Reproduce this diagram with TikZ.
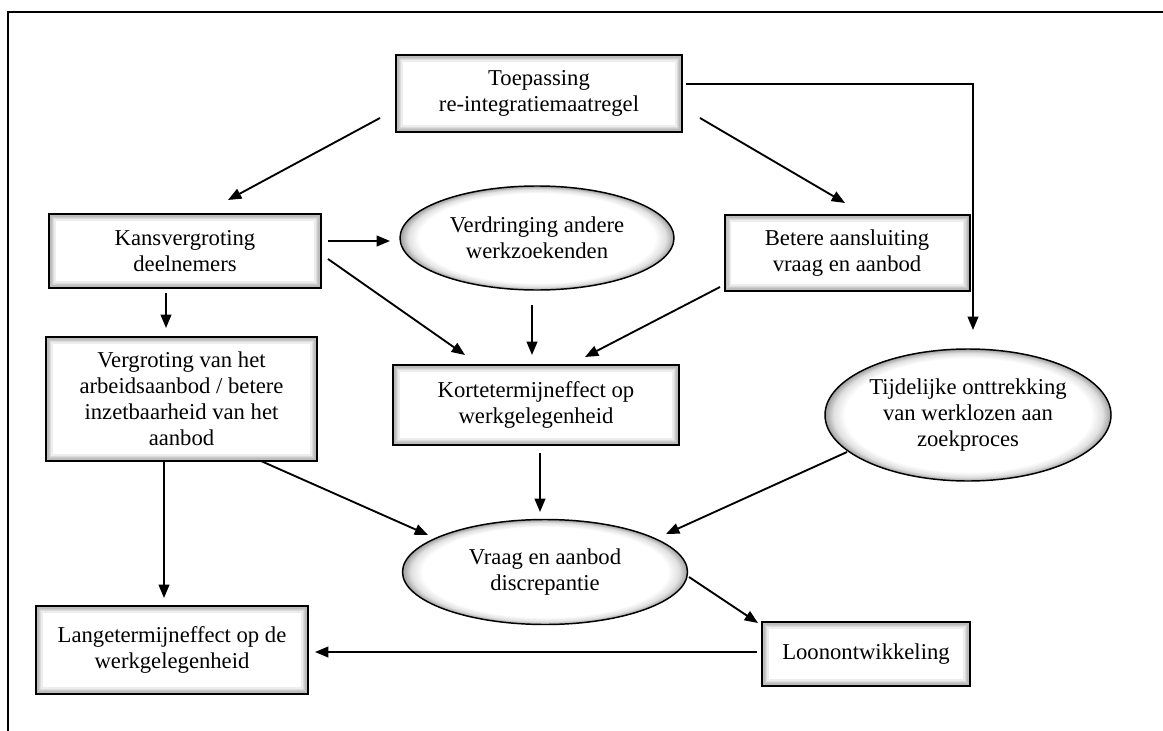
\documentclass[tikz,border=0pt]{standalone}
\usepackage{fontspec}
\setmainfont{Liberation Serif}
\usetikzlibrary{arrows.meta}
\pgfdeclareradialshading{ovalglow}{\pgfpoint{0bp}{0bp}}{color(0bp)=(white); color(21.5bp)=(white); color(23.5bp)=(black!12); color(25bp)=(black!38); color(50bp)=(black!38)}
\tikzset{
  boxnode/.style={draw=black, line width=1.5pt, fill=white, align=center, inner sep=2pt,
    font=\fontsize{17}{19.5}\selectfont,
    path picture={
      \foreach \i in {1,...,5}{
        \draw[black, opacity=0.07, line width=\i*2pt]
          (path picture bounding box.south west) rectangle (path picture bounding box.north east);
      }
    }},
  ovalnode/.style={ellipse, draw=black, line width=1.1pt, shading=ovalglow, align=center, inner sep=0pt,
    font=\fontsize{17}{19.5}\selectfont},
  arr/.style={draw=black, line width=1.4pt, -{Triangle[length=10pt,width=8pt]}},
  frameline/.style={draw=black, line width=1.1pt}
}
\usetikzlibrary{shapes.geometric}
\begin{document}
\begin{tikzpicture}[x=0.75pt, y=-0.75pt]
\useasboundingbox (0,0) rectangle (1163,731);
\coordinate (fa) at (8,731);
\coordinate (fb) at (8,12);
\coordinate (fc) at (1163,12);
\draw[frameline] (fa) -- (fb) -- (fc);

\node[boxnode, minimum width=214.5pt, minimum height=57.75pt] (toe) at (539,93.5) {Toepassing\\re-integratiemaatregel};
\node[boxnode, minimum width=204pt, minimum height=55.5pt] (kans) at (185,251) {Kansvergroting\\deelnemers};
\node[ovalnode, minimum width=205.5pt, minimum height=78pt] (verd) at (537,238) {Verdringing andere\\werkzoekenden};
\node[boxnode, minimum width=183.75pt, minimum height=57pt] (bet) at (847,253) {Betere aansluiting\\vraag en aanbod};
\node[boxnode, minimum width=203.25pt, minimum height=93pt] (verg) at (181.5,399) {Vergroting van het\\arbeidsaanbod / betere\\inzetbaarheid van het\\aanbod};
\node[boxnode, minimum width=214.5pt, minimum height=60pt] (korte) at (536,405) {Kortetermijneffect op\\werkgelegenheid};
\node[ovalnode, minimum width=214.5pt, minimum height=99pt] (tijd) at (968,415) {Tijdelijke onttrekking\\van werklozen aan\\zoekproces};
\node[ovalnode, minimum width=213.75pt, minimum height=78.75pt] (vraag) at (545,572) {Vraag en aanbod\\discrepantie};
\node[boxnode, minimum width=156pt, minimum height=48pt] (loon) at (866,654) {Loonontwikkeling};
\node[boxnode, minimum width=204pt, minimum height=66pt] (lange) at (172,650) {Langetermijneffect op de\\werkgelegenheid};

\draw[arr] ([shift={(-159,24.5)}]toe.center) -- ([shift={(43,-51)}]kans.center);
\draw[arr] ([shift={(161,24.5)}]toe.center) -- ([shift={(-2,-50)}]bet.center);
\draw[arr] ([shift={(147,-9.5)}]toe.center) -| ([shift={(5,-85)}]tijd.center);
\draw[arr] ([shift={(143,-10)}]kans.center) -- ([shift={(-147,3)}]verd.center);
\draw[arr] ([shift={(-19,42)}]kans.center) -- ([shift={(-15.5,-71)}]verg.center);
\draw[arr] ([shift={(143,8)}]kans.center) -- ([shift={(-71,-50)}]korte.center);
\draw[arr] ([shift={(-5,67)}]verd.center) -- ([shift={(-4,-50)}]korte.center);
\draw[arr] ([shift={(-127,34)}]bet.center) -- ([shift={(49,-48)}]korte.center);
\draw[arr] ([shift={(-17.5,62)}]verg.center) -- ([shift={(-8,-52)}]lange.center);
\draw[arr] ([shift={(79.5,62)}]verg.center) -- ([shift={(-117,-37)}]vraag.center);
\draw[arr] ([shift={(4,48)}]korte.center) -- ([shift={(-5,-60)}]vraag.center);
\draw[arr] ([shift={(-121,37)}]tijd.center) -- ([shift={(121,-38)}]vraag.center);
\draw[arr] ([shift={(144,5)}]vraag.center) -- ([shift={(-108,-31)}]loon.center);
\draw[arr] ([shift={(-109,-2)}]loon.center) -- ([shift={(143,2)}]lange.center);
\end{tikzpicture}
\end{document}
